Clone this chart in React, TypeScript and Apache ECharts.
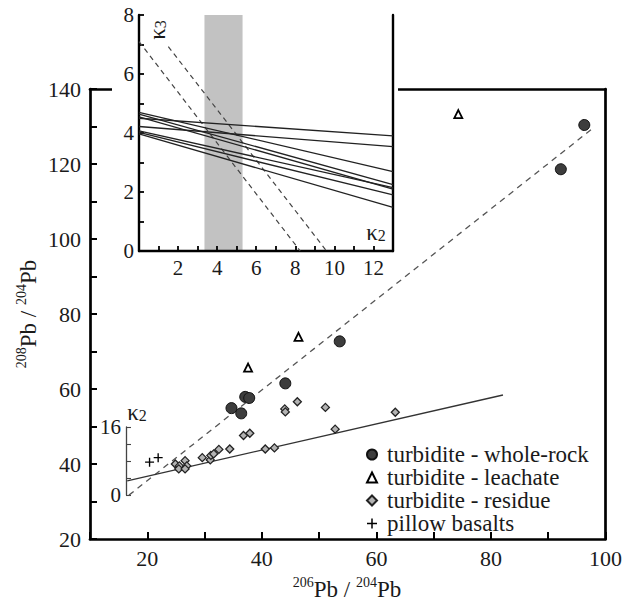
import React, { useEffect, useRef } from "react";
import * as echarts from "echarts";

// ---- main plot data (206Pb/204Pb, 208Pb/204Pb) ----
const wholeRock: number[][] = [
  [34.7, 54.9], [36.4, 53.5], [37.1, 57.9], [37.8, 57.6], [44.1, 61.5],
  [53.6, 72.7], [92.2, 118.6], [96.3, 130.4],
];
const leachate: number[][] = [[37.6, 65.7], [46.4, 73.9], [74.3, 133.3]];
const residue: number[][] = [
  [24.9, 40.0], [25.6, 39.5], [25.5, 38.7], [26.6, 40.9], [26.9, 39.5],
  [26.6, 38.7], [29.6, 41.7], [31.0, 41.1], [31.1, 42.3], [31.6, 42.7],
  [32.5, 43.9], [34.4, 44.0], [36.8, 47.6], [37.9, 48.2], [40.6, 44.0],
  [42.2, 44.3], [44.0, 54.7], [44.1, 53.9], [46.2, 56.6], [51.1, 55.1],
  [52.8, 49.3], [63.3, 53.8],
];
const pillowBasalts: number[][] = [[20.4, 40.5], [21.9, 41.7]];
const solidFit: number[][] = [[16.5, 35.5], [82.1, 58.4]];
const dashedFit: number[][] = [[16.8, 31.7], [98.1, 129.9]];

const legendNames = [
  "turbidite - whole-rock",
  "turbidite - leachate",
  "turbidite - residue",
  "pillow basalts",
];

// ---- inset data (kappa2 vs kappa3) ----
const insetXRange = [0, 13];
const k3AtLeft = [4.5, 4.22, 4.7, 4.64, 4.55, 4.07, 4.02, 3.97];
const k3AtRight = [3.9, 3.54, 2.69, 2.25, 2.1, 2.15, 1.9, 1.48];
const insetDashed1: number[][] = [[0, 7.1], [8.25, 0]];
const insetDashed2: number[][] = [[1.5, 6.93], [9.6, 0]];
const bandRange = [3.35, 5.3];

const FONT = "Liberation Serif";
const TXT = "#1a1a1a";

export default function App() {
  const ref = useRef<HTMLDivElement>(null);
  useEffect(() => {
    if (!ref.current) return;
    const chart = echarts.init(ref.current, undefined, { renderer: "svg" });

    const plusPath =
      "path://M3.4,0h1.2v3.4h3.4v1.2h-3.4v3.4h-1.2v-3.4h-3.4v-1.2h3.4z";

    const insetSolid = k3AtLeft.map((l, i) => ({
      type: "line",
      xAxisIndex: 2,
      yAxisIndex: 2,
      data: [
        [insetXRange[0], l],
        [insetXRange[1], k3AtRight[i]],
      ],
      symbol: "none",
      lineStyle: { color: "#222", width: 1.3 },
      z: 6,
      silent: true,
    }));

    const lbl = (size: number, margin: number, show: (v: number) => boolean) => ({
      formatter: (v: number) => (show(v) ? String(v) : ""),
      fontSize: size, fontFamily: FONT, color: TXT, margin,
    });

    const supRich = {
      b: { fontSize: 23, fontFamily: FONT, fill: TXT, verticalAlign: "bottom", lineHeight: 26 },
      s: { fontSize: 14, fontFamily: FONT, fill: TXT, verticalAlign: "top", lineHeight: 14 },
    };
    const kRich = {
      k: { fontSize: 23, fontFamily: FONT, fill: TXT, verticalAlign: "top", lineHeight: 22 },
      n: { fontSize: 16, fontFamily: FONT, fill: TXT, verticalAlign: "bottom", lineHeight: 15, padding: [12, 0, 0, 0] },
    };

    const option: any = {
      animation: false,
      backgroundColor: "#fff",
      textStyle: { fontFamily: FONT },
      grid: [
        { left: 90, top: 89, width: 515.5, height: 450 },
        { left: 139, top: 15, width: 254, height: 236 },
        { left: 126, top: 427, width: 20, height: 68 },
      ],
      xAxis: [
        {
          gridIndex: 0, type: "value", min: 10, max: 100, interval: 10,
          axisLine: { lineStyle: { color: "#000", width: 2.7 } },
          axisTick: { inside: true, length: 7, lineStyle: { width: 2, color: "#000" } },
          axisLabel: lbl(22, 8, (v) => v % 20 === 0),
          splitLine: { show: false },
        },
        {
          gridIndex: 0, type: "value", min: 10, max: 100, position: "top",
          axisLine: { lineStyle: { color: "#000", width: 2.7 } },
          axisTick: { show: false }, axisLabel: { show: false }, splitLine: { show: false },
        },
        {
          gridIndex: 1, type: "value", min: 0, max: 13, interval: 1, z: 6,
          axisLine: { onZero: false, lineStyle: { color: "#000", width: 2.4 } },
          axisTick: { inside: true, length: 5, lineStyle: { width: 1.8, color: "#000" } },
          axisLabel: lbl(21, 6, (v) => v > 0 && v % 2 === 0),
          splitLine: { show: false },
        },
        { gridIndex: 2, type: "value", min: 0, max: 1, show: false },
      ],
      yAxis: [
        {
          gridIndex: 0, type: "value", min: 20, max: 140, interval: 10,
          axisLine: { lineStyle: { color: "#000", width: 2.7 } },
          axisTick: { inside: true, length: 7, lineStyle: { width: 2, color: "#000" } },
          axisLabel: lbl(22, 9, (v) => v % 20 === 0),
          splitLine: { show: false },
        },
        {
          gridIndex: 0, type: "value", min: 20, max: 140, position: "right",
          axisLine: { lineStyle: { color: "#000", width: 2.7 } },
          axisTick: { show: false }, axisLabel: { show: false }, splitLine: { show: false },
        },
        {
          gridIndex: 1, type: "value", min: 0, max: 8, interval: 1, z: 6,
          axisLine: { onZero: false, lineStyle: { color: "#000", width: 2.4 } },
          axisTick: { inside: true, length: 5, lineStyle: { width: 1.8, color: "#000" } },
          axisLabel: lbl(21, 5, (v) => v % 2 === 0),
          splitLine: { show: false },
        },
        {
          gridIndex: 1, type: "value", min: 0, max: 8, position: "right", z: 6,
          axisLine: { onZero: false, lineStyle: { color: "#000", width: 2.4 } },
          axisTick: { show: false }, axisLabel: { show: false }, splitLine: { show: false },
        },
        {
          gridIndex: 2, type: "value", min: 0, max: 16, interval: 4,
          axisLine: { onZero: false, lineStyle: { color: "#444", width: 1.3 } },
          axisTick: { inside: true, length: 5, lineStyle: { width: 1.1, color: "#444" } },
          axisLabel: lbl(21, 5, (v) => v === 0 || v === 16),
          splitLine: { show: false },
        },
      ],
      legend: {
        data: legendNames,
        orient: "vertical",
        left: 366,
        top: 443,
        padding: 0,
        itemWidth: 10,
        itemHeight: 10,
        itemGap: 0,
        textStyle: {
          fontSize: 23, fontFamily: FONT, color: TXT, lineHeight: 22.8,
          padding: [0, 0, 0, 5],
        },
        selectedMode: false,
      },
      graphic: [
        {
          type: "rect", z: 1, silent: true,
          shape: { x: 112, y: 0, width: 286, height: 286 },
          style: { fill: "#fff" },
        },
        {
          type: "text", z: 7, x: 347, y: 588,
          style: { text: "{s|206}{b|Pb / }{s|204}{b|Pb}", align: "center", verticalAlign: "middle", rich: supRich },
        },
        {
          type: "text", z: 7, x: 27, y: 314, rotation: Math.PI / 2,
          style: { text: "{s|208}{b|Pb / }{s|204}{b|Pb}", align: "center", verticalAlign: "middle", rich: supRich },
        },
        {
          type: "text", z: 7, x: 157, y: 30, rotation: Math.PI / 2,
          style: { text: "{k|κ}{n|3}", align: "center", verticalAlign: "middle", rich: kRich },
        },
        {
          type: "text", z: 7, x: 376, y: 232,
          style: { text: "{k|κ}{n|2}", align: "center", verticalAlign: "middle", rich: kRich },
        },
        {
          type: "text", z: 7, x: 137, y: 412,
          style: { text: "{k|κ}{n|2}", align: "center", verticalAlign: "middle", rich: kRich },
        },
      ],
      series: [
        {
          type: "line", xAxisIndex: 0, yAxisIndex: 0, data: dashedFit,
          symbol: "none", silent: true, z: 1,
          lineStyle: { color: "#555", width: 1.3, type: [6, 5] },
        },
        {
          type: "line", xAxisIndex: 0, yAxisIndex: 0, data: solidFit,
          symbol: "none", silent: true, z: 1,
          lineStyle: { color: "#333", width: 1.3 },
        },
        {
          name: legendNames[0], type: "scatter", xAxisIndex: 0, yAxisIndex: 0,
          data: wholeRock, symbol: "circle", symbolSize: 11,
          itemStyle: { color: "#3d3d3d", borderColor: "#111", borderWidth: 1, opacity: 1 },
        },
        {
          name: legendNames[1], type: "scatter", xAxisIndex: 0, yAxisIndex: 0,
          data: leachate, symbol: "triangle", symbolSize: 8,
          itemStyle: { color: "#fff", borderColor: "#000", borderWidth: 1.8, opacity: 1 },
        },
        {
          name: legendNames[2], type: "scatter", xAxisIndex: 0, yAxisIndex: 0,
          data: residue, symbol: "diamond", symbolSize: 8,
          itemStyle: { color: "#b3b3b3", borderColor: "#222", borderWidth: 1.3, opacity: 1 },
        },
        {
          name: legendNames[3], type: "scatter", xAxisIndex: 0, yAxisIndex: 0,
          data: pillowBasalts, symbol: plusPath, symbolSize: 9,
          itemStyle: { color: "#000", opacity: 1 },
        },
        {
          type: "line", xAxisIndex: 2, yAxisIndex: 2,
          data: insetDashed1, symbol: "none", silent: true, z: 6,
          lineStyle: { color: "#444", width: 1.2, type: [5, 4] },
          markArea: {
            silent: true, z: 3,
            itemStyle: { color: "#c2c2c2" },
            data: [[{ xAxis: bandRange[0] }, { xAxis: bandRange[1] }]],
          },
        },
        {
          type: "line", xAxisIndex: 2, yAxisIndex: 2,
          data: insetDashed2, symbol: "none", silent: true, z: 6,
          lineStyle: { color: "#444", width: 1.2, type: [5, 4] },
        },
        ...insetSolid,
        { type: "scatter", xAxisIndex: 3, yAxisIndex: 4, data: [], silent: true },
      ],
    };
    chart.setOption(option);
    return () => chart.dispose();
  }, []);
  return (
    <div
      ref={ref}
      style={{ position: "absolute", left: 0, top: 0, width: 632, height: 601 }}
    />
  );
}
